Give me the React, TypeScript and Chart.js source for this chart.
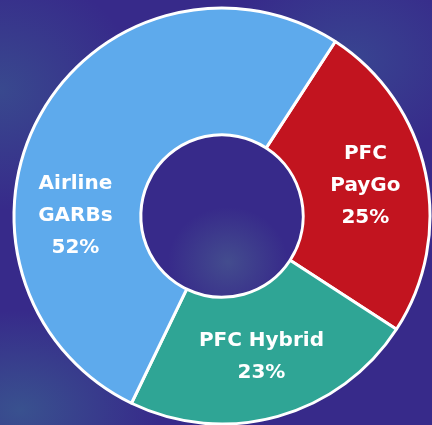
import React, { useEffect, useRef } from "react";
import { Chart, registerables } from "chart.js";

Chart.register(...registerables);

const categories = ["PFC PayGo", "PFC Hybrid", "Airline GARBs"];
const labelLines = [["PFC", "PayGo", "25%"], ["PFC Hybrid", "23%"], ["Airline", "GARBs", "52%"]];
const shares = [25, 23, 52];
const sliceColors = ["#c2141f", "#2fa595", "#5eaaec"];

const sliceLabels = {
  id: "sliceLabels",
  afterDatasetsDraw(chart: any) {
    const ctx = chart.ctx;
    const meta = chart.getDatasetMeta(0);
    ctx.save();
    ctx.fillStyle = "#ffffff";
    ctx.font = "bold 20px 'DejaVu Sans', sans-serif";
    ctx.textAlign = "center";
    ctx.textBaseline = "middle";
    meta.data.forEach((arc: any, i: number) => {
      const p = arc.getProps(["x", "y", "startAngle", "endAngle", "innerRadius", "outerRadius"], true);
      // largest slice: label placed on horizontal axis (left side)
      const ang = i === 2 ? Math.PI : (p.startAngle + p.endAngle) / 2;
      const r = (p.innerRadius + p.outerRadius) / 2 + 2;
      const cx = p.x + Math.cos(ang) * r;
      const cy = p.y + Math.sin(ang) * r;
      const lines = labelLines[i];
      const lh = 32;
      const y0 = cy - ((lines.length - 1) * lh) / 2;
      lines.forEach((t, k) => ctx.fillText(t, cx, y0 + k * lh));
    });
    ctx.restore();
  },
};

export default function App() {
  const ref = useRef<HTMLCanvasElement>(null);
  useEffect(() => {
    const chart = new Chart(ref.current!, {
      type: "doughnut",
      data: {
        labels: categories,
        datasets: [
          {
            data: shares,
            backgroundColor: sliceColors,
            borderColor: "#ffffff",
            borderWidth: 3,
          },
        ],
      },
      options: {
        animation: false,
        responsive: false,
        rotation: 33,
        radius: 208,
        cutout: 81,
        layout: { padding: { left: 12, right: 0, top: 7, bottom: 0 } },
        plugins: { legend: { display: false }, tooltip: { enabled: false } },
      },
      plugins: [sliceLabels],
    });
    return () => chart.destroy();
  }, []);
  return (
    <div
      style={{
        position: "fixed",
        left: 0,
        top: 0,
        width: 432,
        height: 425,
        background:
          "radial-gradient(ellipse 140px 120px at 0px 90px, rgba(60,130,150,0.35), rgba(60,130,150,0) 100%)," +
          "radial-gradient(ellipse 130px 100px at 350px 60px, rgba(60,130,160,0.3), rgba(60,130,160,0) 100%)," +
          "radial-gradient(ellipse 140px 100px at 20px 410px, rgba(60,140,150,0.4), rgba(60,140,150,0) 100%)," +
          "radial-gradient(ellipse 60px 55px at 228px 262px, rgba(90,140,150,0.35), rgba(90,140,150,0) 100%)," +
          "#372a8a",
      }}
    >
      <canvas ref={ref} width={432} height={425} style={{ display: "block" }} />
    </div>
  );
}
